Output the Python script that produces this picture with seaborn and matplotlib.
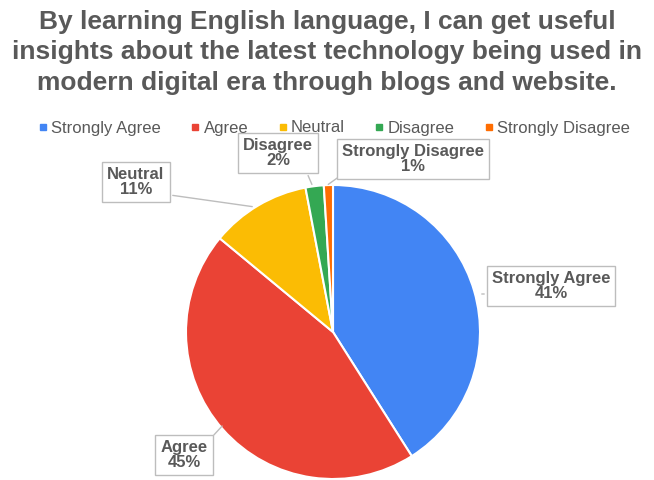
import matplotlib
matplotlib.use("Agg")
import matplotlib.pyplot as plt
from matplotlib.lines import Line2D
import seaborn as sns
import numpy as np

categories = ["Strongly Agree", "Agree", "Neutral", "Disagree", "Strongly Disagree"]
percentages = [41, 45, 11, 2, 1]
colors = ["#4285F4", "#EA4335", "#FBBC04", "#34A853", "#FF6D01"]
title = ("By learning English language, I can get useful\n"
         "insights about the latest technology being used in\n"
         "modern digital era through blogs and website.")

sns.set_theme(style="white")
plt.rcParams["font.family"] = ["Liberation Sans", "DejaVu Sans"]
text_color = "#595959"

W, H = 654, 480
fig = plt.figure(figsize=(W / 100, H / 100), dpi=100)

# pie axes: centre (333, 332) px, radius 147 px
cx, cy, r = 333, 332, 147
ax = fig.add_axes([(cx - r) / W, (H - cy - r) / H, 2 * r / W, 2 * r / H])
wedges, _ = ax.pie(percentages, colors=sns.color_palette(colors), startangle=90,
                   counterclock=False, radius=1,
                   wedgeprops=dict(edgecolor="white", linewidth=1.5))
ax.set_xlim(-1, 1)
ax.set_ylim(-1, 1)
ax.set_aspect("equal")
ax.axis("off")

fig.suptitle(title, x=0.5, y=1 - 10 / H, va="top", fontsize=19, fontweight="bold",
             color=text_color, linespacing=1.34)

handles = [Line2D([0], [0], marker="s", linestyle="none", markersize=4.5,
                  markerfacecolor=c, markeredgecolor=c) for c in colors]
fig.legend(handles, categories, loc="center", bbox_to_anchor=(0.51, 1 - 128 / H),
           ncol=5, frameon=False, fontsize=12, handletextpad=0.15,
           columnspacing=1.72, labelcolor=text_color, handlelength=0.7)

def px(x, y):
    """pixel coordinates -> data coordinates of the pie axes"""
    return ((x - cx) / r, (cy - y) / r)

# label box centres, pointer tips and pointer starts, in pixels
label_boxes = [
    ((551, 286), (479, 294), (487, 294)),
    ((184, 455), (224, 424), (212, 437)),
    ((136, 182), (255, 207), (170, 195)),
    ((278, 153), (313, 187), (307, 173)),
    ((413, 159), (326, 186), (340, 176)),
]
for cat, pct, (box, tip, start) in zip(categories, percentages, label_boxes):
    ax.annotate("", xy=px(*tip), xytext=px(*start),
                arrowprops=dict(arrowstyle="-", color="#BDBDBD", lw=1),
                annotation_clip=False)
    ax.text(*px(*box), f"{cat}\n{pct}%", ha="center", va="center", fontsize=12,
            fontweight="bold", color=text_color, linespacing=1.05, clip_on=False,
            bbox=dict(boxstyle="square,pad=0.3", facecolor="white",
                      edgecolor="#BDBDBD", linewidth=1))

fig.savefig("out.png", dpi=100)
